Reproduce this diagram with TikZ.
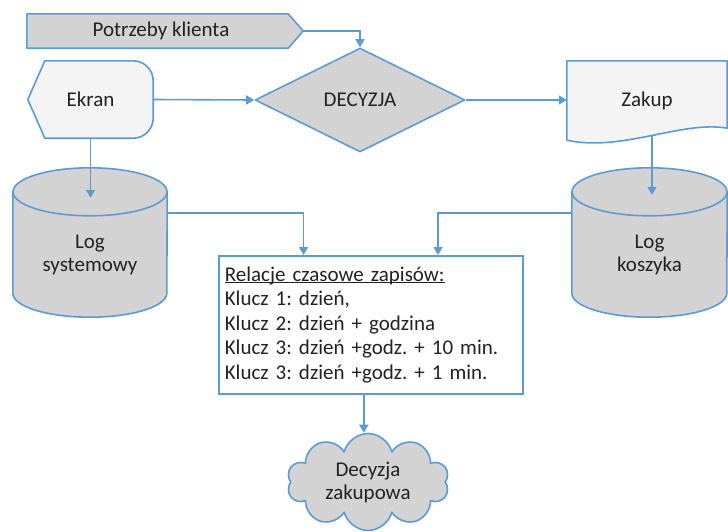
\documentclass[tikz,border=0pt]{standalone}
\usepackage{fontspec}
\setmainfont{Carlito}
\frenchspacing
\usetikzlibrary{shapes.geometric,shapes.symbols,arrows.meta,calc,backgrounds}
\definecolor{lnblue}{HTML}{5B9BD5}
\definecolor{shgray}{HTML}{D3D3D3}
\definecolor{shlight}{HTML}{F4F4F4}
\definecolor{txt}{HTML}{222222}
\newcommand{\ulin}[1]{\leavevmode\rlap{\rule[-2pt]{\widthof{#1}}{0.8pt}}#1}
\usepackage{calc}
\begin{document}
\begin{tikzpicture}[x=1pt,y=-1pt,
  every node/.style={text=txt, font=\fontsize{21}{23}\selectfont},
  outline/.style={draw=lnblue, line width=1.6pt, line join=round},
  conn/.style={draw=lnblue, line width=1.6pt, -{Triangle[width=9pt,length=8pt]}},
  holder/.style={inner sep=0pt, align=center},
]
\useasboundingbox (0,0) rectangle (728,531);

% nodes
\node[holder, minimum width=276pt, minimum height=34pt] (pk) at (165,31) {\hspace*{-8pt}Potrzeby klienta};
\node[holder, minimum width=125pt, minimum height=77pt] (ekran) at (90.5,99.5) {Ekran};
\node[diamond, aspect=2, inner sep=0pt, minimum width=210pt, minimum height=104pt, outline, fill=shgray] (dec) at (360,100) {DECYZJA};
\node[holder, minimum width=160pt, minimum height=79pt] (zakup) at (647,100.5) {\raisebox{3pt}{Zakup}};
\node[holder, minimum width=154pt, minimum height=125pt] (logsys) at (90,254.5) {Log\\systemowy};
\node[holder, minimum width=155pt, minimum height=125pt] (logkos) at (649.5,254.5) {Log\\koszyka};
\node[draw=lnblue, line width=1.6pt, fill=white, anchor=north west, minimum width=304pt, minimum height=138pt,
      text width=292pt, inner xsep=6pt, inner ysep=0pt, align=left, font=\fontsize{21}{24.5}\selectfont] (box) at (218,255)
  {\ulin{Relacje czasowe zapisów:}\\
   Klucz 1: dzień,\\
   Klucz 2: dzień + godzina\\
   Klucz 3: dzień +godz. + 10 min.\\
   Klucz 3: dzień +godz. + 1 min.};
\node[cloud, cloud puffs=10, aspect=1.7, outline, fill=shgray, minimum width=162pt, minimum height=97pt,
      inner sep=0pt, align=center] (cloud) at (368,482) {Decyzja\\zakupowa};

% shapes behind the text
\begin{pgfonlayer}{background}
\path[outline, fill=shgray] (pk.north west) -- ($(pk.north east)+(-15,0)$) -- (pk.east)
  -- ($(pk.south east)+(-15,0)$) -- (pk.south west) -- cycle;
\path[outline, fill=shlight] (ekran.west) -- ($(ekran.north west)+(17,0)$) -- ($(ekran.north east)+(-20,0)$)
  .. controls ($(ekran.north east)+(-9,0)$) and ($(ekran.north east)+(0,9)$) .. ($(ekran.north east)+(0,20)$)
  -- ($(ekran.south east)+(0,-20)$)
  .. controls ($(ekran.south east)+(0,-9)$) and ($(ekran.south east)+(-9,0)$) .. ($(ekran.south east)+(-20,0)$)
  -- ($(ekran.south west)+(17,0)$) -- cycle;
\path[outline, fill=shlight] (zakup.north west) -- (zakup.north east) -- ($(zakup.south east)+(0,-12)$)
  .. controls ($(zakup.south east)+(-45,-20)$) and ($(zakup.south west)+(55,12)$) .. (zakup.south west) -- cycle;
\foreach \c/\r in {logsys/77, logkos/77.5} {
  \path[outline, fill=shgray] (\c.north west) -- ($(\c.south west)+(0,-24)$)
    arc[start angle=180, end angle=0, x radius=\r, y radius=24] -- (\c.north east) -- cycle;
  \path[outline, fill=shgray] (\c.north) ellipse[x radius=\r, y radius=24];
}
\end{pgfonlayer}

% connectors
\draw[conn] (pk.east) -| (dec.north);
\draw[conn] (ekran.east) -- (dec.west);
\draw[conn] (dec.east) -- (dec.east -| zakup.west);
\draw[conn] (ekran.south) -- ([yshift=-6pt]logsys.north -| ekran.south);
\draw[conn] ([xshift=5pt,yshift=4pt]zakup.south) -- ([xshift=2.5pt,yshift=-3pt]logkos.north);
\draw[conn] ([yshift=-21pt]logsys.north east) -| ($(box.north west)!0.28!(box.north east)$);
\draw[conn] ([yshift=-21pt]logkos.north west) -| ($(box.north west)!0.72!(box.north east)$);
\draw[conn] ([xshift=-7pt]box.south) -- ([xshift=-7pt]box.south |- cloud.north);
\end{tikzpicture}
\end{document}
